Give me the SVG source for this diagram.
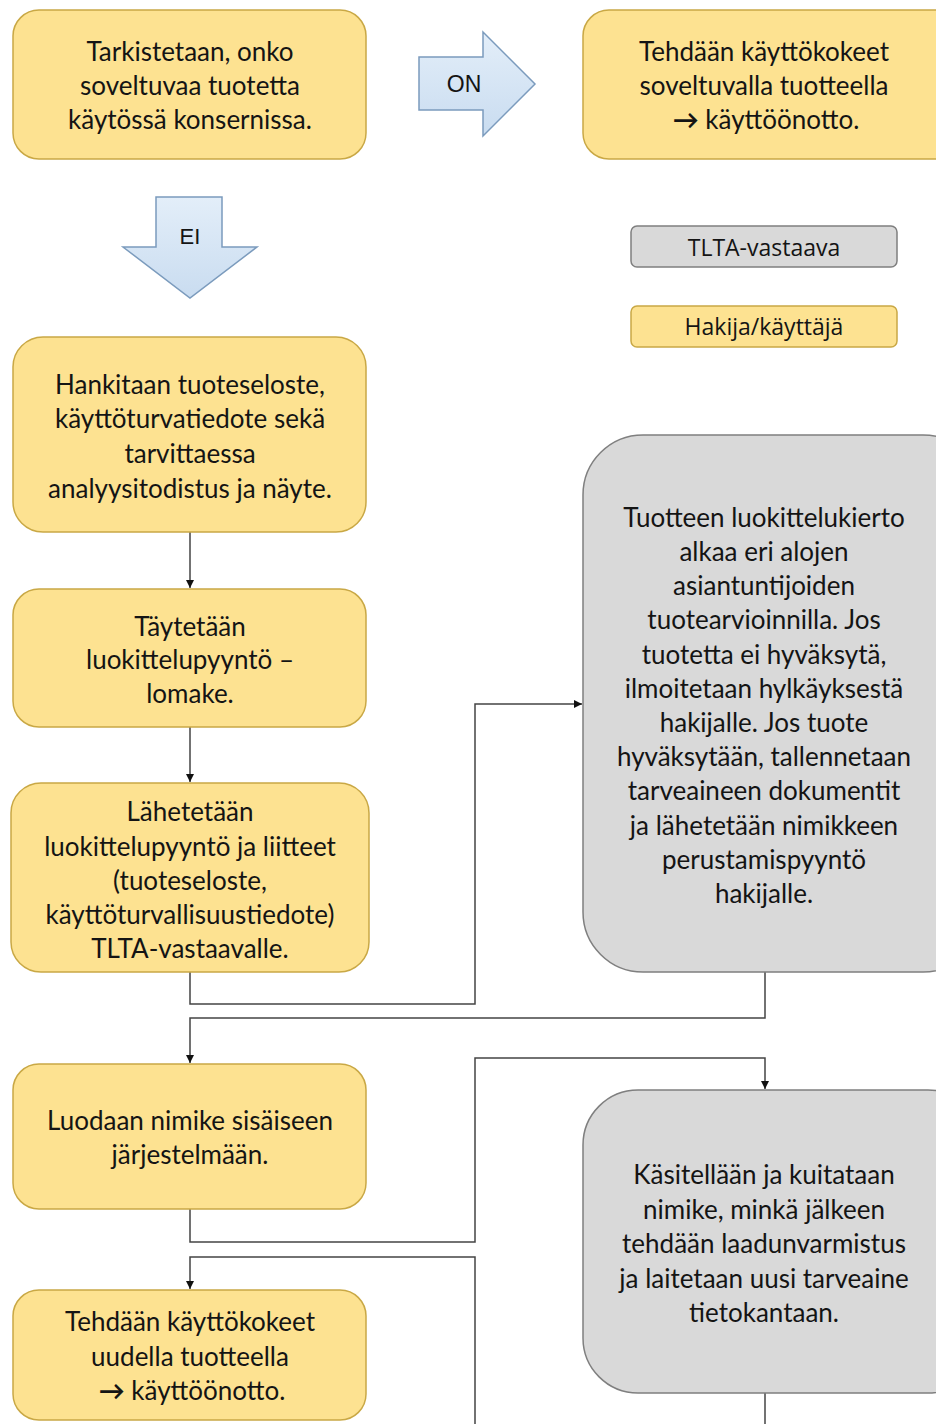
<svg xmlns="http://www.w3.org/2000/svg" width="936" height="1424" viewBox="0 0 936 1424">
<defs>
<style>
.y{fill:#fde291;stroke:#c9a845;stroke-width:1.5}
.g{fill:#d9d9d9;stroke:#7f7f7f;stroke-width:1.5}
.t{font-family:Lato,"Liberation Sans",sans-serif;font-size:26px;fill:#141414;text-anchor:middle;dominant-baseline:central}
.lg{font-family:"Open Sans","DejaVu Sans",sans-serif;font-size:23px;fill:#141414;text-anchor:middle;dominant-baseline:central}
.ba{fill:url(#bl);stroke:#7b9bbd;stroke-width:1.5}
.ar{font-family:"Liberation Sans",Arial,sans-serif;font-size:23px;fill:#141414;text-anchor:middle;dominant-baseline:central}
.c{fill:none;stroke:#444;stroke-width:1.5}
.b{font-weight:bold}
</style>
<linearGradient id="bl" x1="0" y1="0" x2="0" y2="1">
<stop offset="0" stop-color="#e3eef9"/>
<stop offset="1" stop-color="#c9dcf0"/>
</linearGradient>
<marker id="m" viewBox="0 0 10 10" refX="10" refY="5" markerWidth="8" markerHeight="8" markerUnits="userSpaceOnUse" orient="auto">
<path d="M0,0 L10,5 L0,10 z" fill="#111"/>
</marker>
</defs>

<g id="connectors">
<path class="c" d="M190,532 V588" marker-end="url(#m)"/>
<path class="c" d="M190,727 V782" marker-end="url(#m)"/>
<path class="c" d="M190,972 V1004 H475 V704 H582" marker-end="url(#m)"/>
<path class="c" d="M765,972 V1018 H190 V1063" marker-end="url(#m)"/>
<path class="c" d="M190,1209 V1242 H475 V1058 H765 V1089" marker-end="url(#m)"/>
<path class="c" d="M475,1424 V1257 H190 V1289" marker-end="url(#m)"/>
<path class="c" d="M765,1393 V1424"/>
</g>

<g id="n1"><rect class="y" x="13" y="10" width="353" height="149" rx="26"/>
<text class="t"><tspan x="190" y="51">Tarkistetaan, onko</tspan><tspan x="190" y="85">soveltuvaa tuotetta</tspan><tspan x="190" y="119">käytössä konsernissa.</tspan></text></g>

<g id="on"><path class="ba" d="M419,57 H483 V32 L535,84 L483,136 V110 H419 Z"/><text class="ar" x="464" y="84">ON</text></g>

<g id="n2"><rect class="y" x="583" y="10" width="380" height="149" rx="26"/>
<text class="t"><tspan x="764" y="51">Tehdään käyttökokeet</tspan><tspan x="764" y="85">soveltuvalla tuotteella</tspan><tspan x="766" y="119"><tspan class="b">→</tspan> käyttöönotto.</tspan></text></g>

<g id="ei"><path class="ba" d="M156,197 H222 V247 H257 L190,298 L123,247 H156 Z"/><text class="ar" x="190" y="236" style="font-size:22px">EI</text></g>

<g id="legend1"><rect class="g" x="631" y="226" width="266" height="41" rx="6"/><text class="lg" x="764" y="247">TLTA-vastaava</text></g>
<g id="legend2"><rect class="y" x="631" y="306" width="266" height="41" rx="6"/><text class="lg" x="764" y="326">Hakija/käyttäjä</text></g>

<g id="n3"><rect class="y" x="13" y="337" width="353" height="195" rx="30"/>
<text class="t"><tspan x="190" y="384">Hankitaan tuoteseloste,</tspan><tspan x="190" y="418">käyttöturvatiedote sekä</tspan><tspan x="190" y="453">tarvittaessa</tspan><tspan x="190" y="488">analyysitodistus ja näyte.</tspan></text></g>

<g id="n4"><rect class="y" x="13" y="589" width="353" height="138" rx="26"/>
<text class="t"><tspan x="190" y="626">Täytetään</tspan><tspan x="190" y="659">luokittelupyyntö –</tspan><tspan x="190" y="693">lomake.</tspan></text></g>

<g id="n5"><rect class="y" x="11" y="783" width="358" height="189" rx="30"/>
<text class="t"><tspan x="190" y="811">Lähetetään</tspan><tspan x="190" y="846">luokittelupyyntö ja liitteet</tspan><tspan x="190" y="880">(tuoteseloste,</tspan><tspan x="190" y="914">käyttöturvallisuustiedote)</tspan><tspan x="190" y="948">TLTA-vastaavalle.</tspan></text></g>

<g id="n6"><rect class="g" x="583" y="435" width="400" height="537" rx="60"/>
<text class="t"><tspan x="764" y="517">Tuotteen luokittelukierto</tspan><tspan x="764" y="551">alkaa eri alojen</tspan><tspan x="764" y="585">asiantuntijoiden</tspan><tspan x="764" y="619">tuotearvioinnilla. Jos</tspan><tspan x="764" y="654">tuotetta ei hyväksytä,</tspan><tspan x="764" y="688">ilmoitetaan hylkäyksestä</tspan><tspan x="764" y="722">hakijalle. Jos tuote</tspan><tspan x="764" y="756">hyväksytään, tallennetaan</tspan><tspan x="764" y="790">tarveaineen dokumentit</tspan><tspan x="764" y="825">ja lähetetään nimikkeen</tspan><tspan x="764" y="859">perustamispyyntö</tspan><tspan x="764" y="893">hakijalle.</tspan></text></g>

<g id="n7"><rect class="y" x="13" y="1064" width="353" height="145" rx="26"/>
<text class="t"><tspan x="190" y="1120">Luodaan nimike sisäiseen</tspan><tspan x="190" y="1154">järjestelmään.</tspan></text></g>

<g id="n8"><rect class="g" x="583" y="1090" width="400" height="303" rx="55"/>
<text class="t"><tspan x="764" y="1174">Käsitellään ja kuitataan</tspan><tspan x="764" y="1209">nimike, minkä jälkeen</tspan><tspan x="764" y="1243">tehdään laadunvarmistus</tspan><tspan x="764" y="1278">ja laitetaan uusi tarveaine</tspan><tspan x="764" y="1312">tietokantaan.</tspan></text></g>

<g id="n9"><rect class="y" x="13" y="1290" width="353" height="130" rx="26"/>
<text class="t"><tspan x="190" y="1321">Tehdään käyttökokeet</tspan><tspan x="190" y="1356">uudella tuotteella</tspan><tspan x="192" y="1390"><tspan class="b">→</tspan> käyttöönotto.</tspan></text></g>
</svg>
